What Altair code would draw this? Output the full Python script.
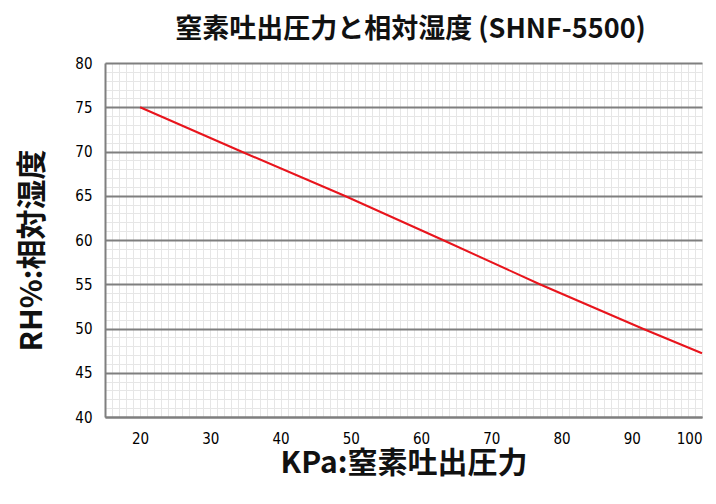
import altair as alt
import pandas as pd

# Values (crossings of the red line with the major grid lines)
pressure_kpa = [20, 34.4, 49.1, 63.1, 76.9, 91.5, 100]
rh_percent = [75, 70, 65, 60, 55, 50, 47.2]

x_grid_values = list(range(15, 101))
y_grid_values = list(range(40, 81))

title_text = "窒素吐出圧力と相対湿度 (SHNF-5500)"
x_title = "KPa:窒素吐出圧力"
y_title = "RH%:相対湿度"

df = pd.DataFrame({"kpa": pressure_kpa, "rh": rh_percent})

label_font = "DejaVu Sans Condensed, Liberation Sans Narrow, sans-serif"
cjk_font = "Noto Sans CJK JP"

chart = alt.Chart(df).mark_line(color="#e8141c", strokeWidth=2).encode(
    x=alt.X(
        "kpa:Q",
        scale=alt.Scale(domain=[15, 100], nice=False, zero=False),
        axis=alt.Axis(
            values=x_grid_values,
            labelExpr="(datum.value % 10 == 0 && datum.value >= 20) ? datum.label : ''",
            labelOverlap=False,
            labelFlush=True,
            ticks=False,
            grid=True,
            gridColor="#e6e6e6",
            gridWidth=1,
            domainColor="#7f7f7f",
            domainWidth=2,
            labelFont=label_font,
            labelFontSize=15,
            labelColor="#000000",
            labelPadding=14,
            title=x_title,
            titleFont=cjk_font,
            titleFontSize=30,
            titleFontWeight="bold",
            titleColor="#111111",
            titlePadding=2,
        ),
    ),
    y=alt.Y(
        "rh:Q",
        scale=alt.Scale(domain=[40, 80], nice=False, zero=False),
        axis=alt.Axis(
            values=y_grid_values,
            labelExpr="datum.value % 5 == 0 ? datum.label : ''",
            labelOverlap=False,
            labelFlush=False,
            ticks=False,
            grid=True,
            gridColor={"condition": {"test": "datum.value % 5 == 0", "value": "#7f7f7f"}, "value": "#e6e6e6"},
            gridWidth={"condition": {"test": "datum.value % 5 == 0", "value": 2}, "value": 1},
            domainColor="#7f7f7f",
            domainWidth=2,
            labelFont=label_font,
            labelFontSize=15,
            labelColor="#000000",
            labelPadding=13,
            title=y_title,
            titleFont=cjk_font,
            titleFontSize=30,
            titleFontWeight="bold",
            titleColor="#111111",
            titlePadding=27,
            titleY=187,
        ),
    ),
).properties(
    width=597,
    height=354,
    title=alt.TitleParams(
        text=title_text,
        font=cjk_font,
        fontSize=27,
        fontWeight="bold",
        color="#111111",
        anchor="middle",
        offset=12,
        dx=7,
    ),
    autosize=alt.AutoSizeParams(type="none"),
    padding={"left": 97, "top": 55, "right": 6, "bottom": 79},
).configure_view(stroke=None).configure(background="#ffffff")

chart.save("out.html", embed_options={"renderer": "svg", "actions": False})
